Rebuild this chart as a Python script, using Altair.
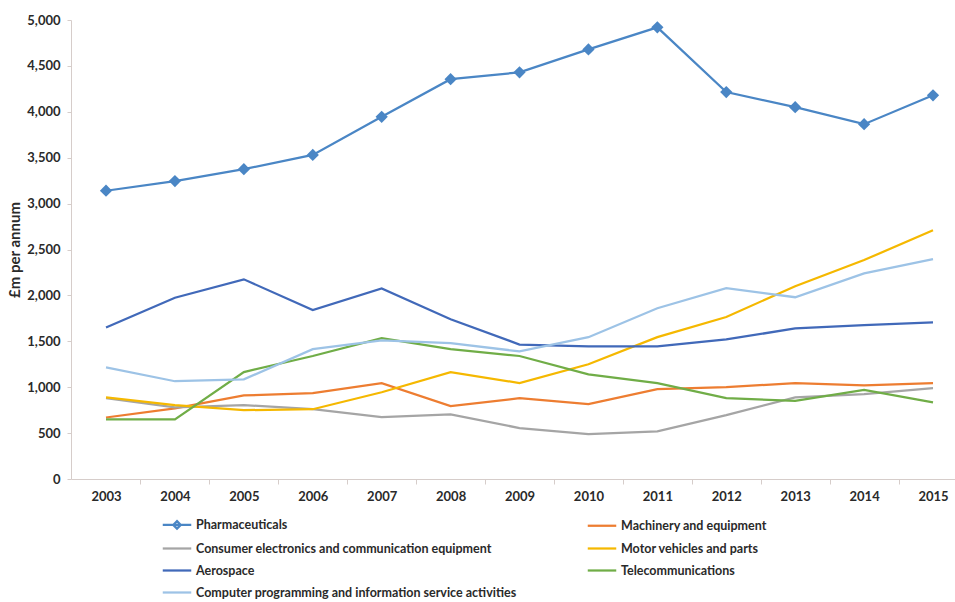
import altair as alt
import pandas as pd

# Annual spend by industry, £m
years = list(range(2003, 2016))
series_names = [
    "Pharmaceuticals",
    "Machinery and equipment",
    "Consumer electronics and communication equipment",
    "Motor vehicles and parts",
    "Aerospace",
    "Telecommunications",
    "Computer programming and information service activities",
]
pharmaceuticals = [3140, 3245, 3375, 3530, 3945, 4355, 4430, 4680, 4920, 4215, 4050, 3865, 4180]
machinery = [670, 770, 910, 935, 1045, 795, 880, 815, 980, 1000, 1045, 1020, 1045]
consumer_electronics = [880, 780, 805, 760, 675, 705, 555, 490, 520, 695, 890, 925, 990]
motor_vehicles = [890, 805, 750, 760, 945, 1165, 1045, 1250, 1545, 1765, 2100, 2385, 2710]
aerospace = [1650, 1975, 2175, 1840, 2075, 1740, 1465, 1445, 1445, 1520, 1640, 1675, 1705]
telecommunications = [650, 650, 1165, 1340, 1535, 1415, 1340, 1140, 1045, 880, 850, 970, 835]
computer_programming = [1215, 1065, 1085, 1415, 1510, 1480, 1390, 1545, 1860, 2080, 1980, 2240, 2395]

series_values = [
    pharmaceuticals, machinery, consumer_electronics, motor_vehicles,
    aerospace, telecommunications, computer_programming,
]
series_colors = ["#4a86c5", "#ed7d31", "#a5a5a5", "#f5b800", "#4169b9", "#70ad47", "#9dc3e6"]

# legend swatches: a short line, with a small diamond for the marked series
line_swatch = "M-1.9,0H1.9"
diamond_swatch = "M-1.9,0H1.9M0,-0.5L0.5,0L0,0.5L-0.5,0Z"
swatch_shapes = [diamond_swatch] + [line_swatch] * (len(series_names) - 1)

df = pd.DataFrame(
    [
        {"year": y, "series": name, "value": v}
        for name, values in zip(series_names, series_values)
        for y, v in zip(years, values)
    ]
)

FONT = "Lato"
TEXT_COLOR = "#2a2a2a"
AXIS_COLOR = "#d6cdca"

PLOT_W, PLOT_H = 884, 459
x_domain = [2002.492, 2015.319]
half_step = PLOT_W / (x_domain[1] - x_domain[0]) / 2

x_enc = alt.X(
    "year:Q",
    scale=alt.Scale(domain=x_domain, nice=False, zero=False),
    axis=alt.Axis(
        values=[years[0] - 1] + years,
        format="d",
        labelExpr=f"datum.value < {years[0]} ? '' : datum.label",
        tickOffset=half_step,
        labelOffset=-half_step,
        labelFlush=False,
        labelOverlap=False,
        grid=False,
        title=None,
        tickSize=5,
        labelPadding=6,
        domainColor=AXIS_COLOR,
        tickColor=AXIS_COLOR,
        labelFont=FONT,
        labelFontSize=13,
        labelFontWeight="bold",
        labelColor=TEXT_COLOR,
    ),
)

y_enc = alt.Y(
    "value:Q",
    scale=alt.Scale(domain=[0, 5000], nice=False),
    axis=alt.Axis(
        values=list(range(0, 5001, 500)),
        format=",d",
        grid=False,
        title="£m per annum",
        titleFont=FONT,
        titleFontSize=15,
        titleFontWeight="bold",
        titleColor=TEXT_COLOR,
        titlePadding=4,
        tickSize=4,
        labelPadding=7,
        domainColor=AXIS_COLOR,
        tickColor=AXIS_COLOR,
        labelFont=FONT,
        labelFontSize=13,
        labelFontWeight="bold",
        labelColor=TEXT_COLOR,
    ),
)

color_scale = alt.Scale(domain=series_names, range=series_colors)

legend_props = dict(
    title=None,
    orient="none",
    legendX=97,
    legendY=495.5,
    direction="horizontal",
    columns=2,
    padding=0,
    columnPadding=66,
    rowPadding=6,
    labelFont=FONT,
    labelFontSize=12.5,
    labelFontWeight="bold",
    labelColor=TEXT_COLOR,
    labelLimit=500,
    labelOffset=10,
    symbolSize=225,
    symbolStrokeWidth=2.25,
    symbolFillColor=series_colors[0],
)

lines = alt.Chart(df).mark_line(strokeWidth=2.25).encode(
    x=x_enc,
    y=y_enc,
    color=alt.Color("series:N", scale=color_scale, legend=None),
)

markers = (
    alt.Chart(df)
    .transform_filter(alt.datum.series == series_names[0])
    .mark_point(shape="diamond", filled=True, size=150, opacity=1)
    .encode(
        x=x_enc,
        y=y_enc,
        color=alt.Color("series:N", scale=color_scale, legend=None),
    )
)

# legend-only layer: no marks drawn, it carries the combined colour/shape key
key = (
    alt.Chart(df)
    .transform_filter("false")
    .mark_point(filled=False, strokeWidth=2.25, opacity=1)
    .encode(
        x=x_enc,
        y=y_enc,
        color=alt.Color("series:N", scale=color_scale, legend=alt.Legend(**legend_props)),
        shape=alt.Shape(
            "series:N",
            scale=alt.Scale(domain=series_names, range=swatch_shapes),
            legend=alt.Legend(**legend_props),
        ),
    )
)

chart = (
    alt.layer(lines, markers, key)
    .resolve_legend(color="independent", shape="independent")
    .properties(
        width=PLOT_W,
        height=PLOT_H,
        padding={"left": 71, "top": 20, "right": 0, "bottom": 123},
        autosize=alt.AutoSizeParams(type="none"),
        background="white",
    )
    .configure_view(stroke=None)
)

chart.save("out.html", embed_options={"renderer": "svg", "actions": False})
